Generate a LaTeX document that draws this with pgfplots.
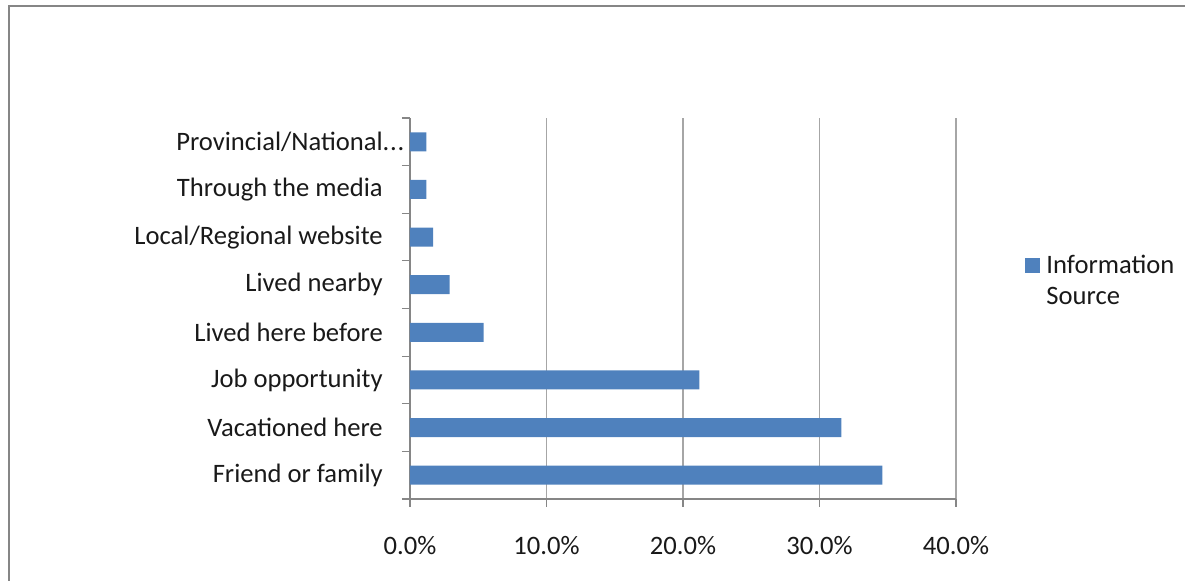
\documentclass[border=0pt]{standalone}
\usepackage{pgfplots}
\pgfplotsset{compat=1.18}
\usepackage{fontspec}
\setmainfont{Carlito}
\definecolor{barblue}{HTML}{4F81BD}
\definecolor{gridgray}{HTML}{A6A6A6}
\definecolor{axgray}{HTML}{868686}
\begin{document}
\fontsize{13.3}{16}\selectfont
\begin{tikzpicture}
\path[use as bounding box] (0,0) rectangle (592.5pt,290.5pt);
\draw[axgray, line width=1.3pt] (4.5pt,-2pt) -- (4.5pt,287.5pt) -- (595pt,287.5pt);
\begin{axis}[
  at={(205pt,41pt)}, anchor=south west,
  scale only axis, width=273pt, height=190.5pt,
  xbar, bar width=0.4,
  xmin=0, xmax=40, ymin=-0.5, ymax=7.5,
  axis x line*=bottom, axis y line*=left,
  axis line style={axgray, line width=0.6pt},
  tick align=outside,
  major tick length=4pt, minor tick length=4pt,
  tick style={axgray, line width=0.6pt},
  xtick={0,10,20,30,40},
  xticklabels={0.0\%,10.0\%,20.0\%,30.0\%,40.0\%},
  ytick={0,1,2,3,4,5,6,7},
  yticklabels={{Friend or family},{Vacationed here},{Job opportunity},{Lived here before},{Lived nearby},{Local/Regional website},{Through the media},{Provincial/National\rlap{.\kern0.4pt.\kern0.4pt.}}},
  minor ytick={-0.5,0.5,1.5,2.5,3.5,4.5,5.5,6.5,7.5},
  every major y tick/.style={draw=none},
  xmajorgrids,
  grid style={gridgray, line width=0.6pt},
  tick label style={font=\fontsize{13.3}{16}\selectfont, text=black!90},
  xticklabel style={yshift=-10.3pt},
  yticklabel style={xshift=-5pt},
  legend style={draw=none, fill=none, at={(1.1264,0.6395)}, anchor=north west,
    inner sep=0pt, row sep=4pt, column sep=3pt,
    font=\fontsize{13.3}{16}\selectfont,
    nodes={inner sep=0pt, text height=9pt, text depth=2.5pt, text=black!90}},
  legend cell align=left,
  clip=false,
]
\addplot[fill=barblue, draw=none,
  legend image code/.code={\fill[barblue] (0pt,-3pt) rectangle (7.5pt,4.5pt);}]
  coordinates {(34.6,0) (31.6,1) (21.2,2) (5.4,3) (2.9,4) (1.7,5) (1.2,6) (1.2,7)};
\addlegendentry{Information}
\addlegendimage{empty legend}
\addlegendentry{Source}
\end{axis}
\end{tikzpicture}
\end{document}
